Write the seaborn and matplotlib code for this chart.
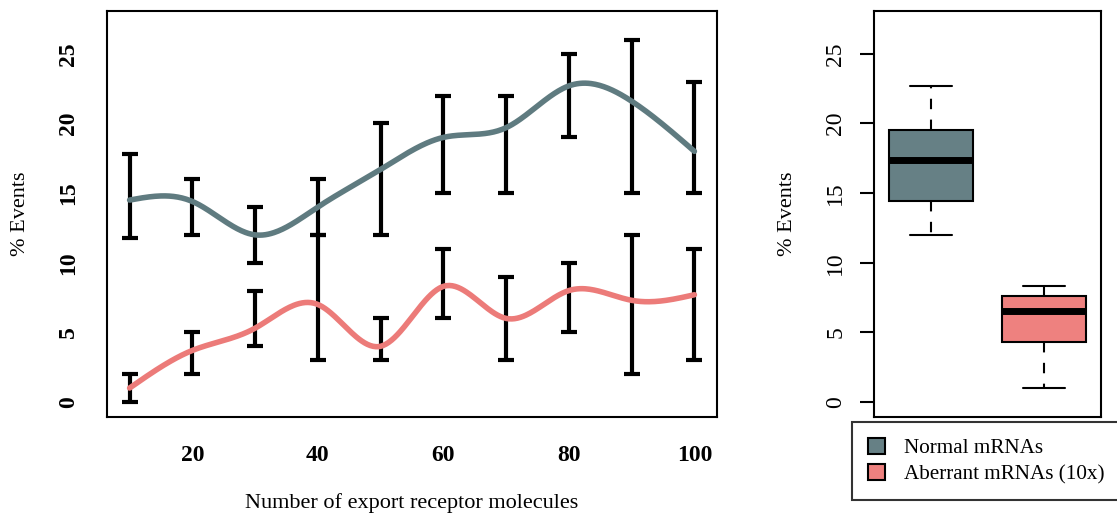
import numpy as np
import pandas as pd
import seaborn as sns
import matplotlib.pyplot as plt
from matplotlib.patches import Patch

# values
receptors = [10, 20, 30, 40, 50, 60, 70, 80, 90, 100]
normal_mean = [14.5, 14.4, 12.0, 14.0, 16.7, 19.0, 19.7, 22.7, 21.6, 18.0]
normal_low = [11.8, 12, 10, 12, 12, 15, 15, 19, 15, 15]
normal_high = [17.8, 16, 14, 16, 20, 22, 22, 25, 26, 23]
aberrant_mean = [1.0, 3.7, 5.3, 7.0, 4.0, 8.3, 6.0, 8.0, 7.3, 7.7]
aberrant_low = [0, 2, 4, 3, 3, 6, 3, 5, 2, 3]
aberrant_high = [2, 5, 8, 12, 6, 11, 9, 10, 12, 11]
groups = ["Normal mRNAs", "Aberrant mRNAs (10x)"]

c_normal_line = "#5f7b80"
c_aberrant_line = "#ec7b79"
c_normal_box = "#668085"
c_aberrant_box = "#ee817f"


def natural_spline(x, y, n=400):
    # natural cubic spline through the points, only used to draw the smooth curve
    x = np.asarray(x, float)
    y = np.asarray(y, float)
    k = len(x)
    h = np.diff(x)
    A = np.zeros((k, k))
    b = np.zeros(k)
    A[0, 0] = A[-1, -1] = 1
    for i in range(1, k - 1):
        A[i, i - 1] = h[i - 1]
        A[i, i] = 2 * (h[i - 1] + h[i])
        A[i, i + 1] = h[i]
        b[i] = 6 * ((y[i + 1] - y[i]) / h[i] - (y[i] - y[i - 1]) / h[i - 1])
    M = np.linalg.solve(A, b)
    xs = np.linspace(x[0], x[-1], n)
    j = np.clip(np.searchsorted(x, xs) - 1, 0, k - 2)
    t0 = x[j + 1] - xs
    t1 = xs - x[j]
    hj = h[j]
    ys = (M[j] * t0 ** 3 + M[j + 1] * t1 ** 3) / (6 * hj) \
        + (y[j] / hj - M[j] * hj / 6) * t0 + (y[j + 1] / hj - M[j + 1] * hj / 6) * t1
    return xs, ys


sns.set_theme(style="white")
plt.rcParams["font.family"] = ["Liberation Serif", "DejaVu Serif"]
plt.rcParams["axes.linewidth"] = 1.5
plt.rcParams["axes.edgecolor"] = "black"
plt.rcParams["text.color"] = "black"
plt.rcParams["axes.labelcolor"] = "black"
plt.rcParams["xtick.color"] = "black"
plt.rcParams["ytick.color"] = "black"

fig = plt.figure(figsize=(11.17, 5.18), dpi=100)
ax1 = fig.add_axes([0.0958, 0.195, 0.5461, 0.7838])
ax2 = fig.add_axes([0.7825, 0.195, 0.2032, 0.7838])

# left panel: error bars + smooth curves
for mean, lo, hi in [(normal_mean, normal_low, normal_high),
                     (aberrant_mean, aberrant_low, aberrant_high)]:
    m = np.array(mean)
    err = [m - np.array(lo), np.array(hi) - m]
    ax1.errorbar(receptors, m, yerr=err, fmt="none", ecolor="black",
                 elinewidth=3, capsize=5.5, capthick=3, zorder=2)

for mean, col in [(normal_mean, c_normal_line), (aberrant_mean, c_aberrant_line)]:
    xs, ys = natural_spline(receptors, mean)
    curve = pd.DataFrame({"x": xs, "y": ys})
    sns.lineplot(data=curve, x="x", y="y", ax=ax1, color=col, linewidth=4,
                 sort=False, zorder=3, solid_capstyle="round")

ax1.set_xlim(6.4, 103.6)
ax1.set_ylim(-1.08, 28.08)
ax1.set_xticks([20, 40, 60, 80, 100])
ax1.set_yticks([0, 5, 10, 15, 20, 25])
ax1.set_xlabel("Number of export receptor molecules", fontsize=16, labelpad=20)
ax1.set_ylabel("% Events", fontsize=16, labelpad=20)
ax1.tick_params(axis="both", direction="out", length=10, width=1.5,
                color="black", labelsize=17, pad=10)
ax1.tick_params(axis="y", labelrotation=90)
for lab in ax1.get_xticklabels() + ax1.get_yticklabels():
    lab.set_fontweight("bold")
for lab in ax1.get_yticklabels():
    lab.set_va("center")

# right panel: boxplot of the means
box_df = pd.DataFrame({
    "group": [groups[0]] * len(normal_mean) + [groups[1]] * len(aberrant_mean),
    "value": normal_mean + aberrant_mean,
})
sns.boxplot(data=box_df, x="group", y="value", hue="group", ax=ax2,
            palette=[c_normal_box, c_aberrant_box], legend=False, saturation=1,
            whis=(0, 100), width=0.74, linecolor="black", linewidth=1.5,
            medianprops={"linewidth": 5, "color": "black"},
            whiskerprops={"linestyle": (0, (5, 5)), "linewidth": 1.5},
            capprops={"linewidth": 1.5}, showfliers=False)
ax2.set_xlim(-0.5, 1.5)
ax2.set_ylim(-1.08, 28.08)
ax2.set_xticks([])
ax2.set_xlabel("")
ax2.set_yticks([0, 5, 10, 15, 20, 25])
ax2.set_ylabel("% Events", fontsize=16, labelpad=20)
ax2.tick_params(axis="y", direction="out", length=10, width=1.5,
                color="black", labelsize=17, pad=10, labelrotation=90, left=True)
for lab in ax2.get_yticklabels():
    lab.set_va("center")

handles = [Patch(facecolor=c_normal_box, edgecolor="black", linewidth=1.5),
           Patch(facecolor=c_aberrant_box, edgecolor="black", linewidth=1.5)]
leg = fig.legend(handles, groups, loc="upper left", bbox_to_anchor=(0.763, 0.185),
                 fontsize=15.2, frameon=True, fancybox=False, edgecolor="black",
                 handlelength=0.8, handleheight=0.8, handletextpad=0.9,
                 borderpad=0.75, labelspacing=0.25, borderaxespad=0)
leg.get_frame().set_linewidth(1.5)

fig.savefig("out.png", dpi=100)
